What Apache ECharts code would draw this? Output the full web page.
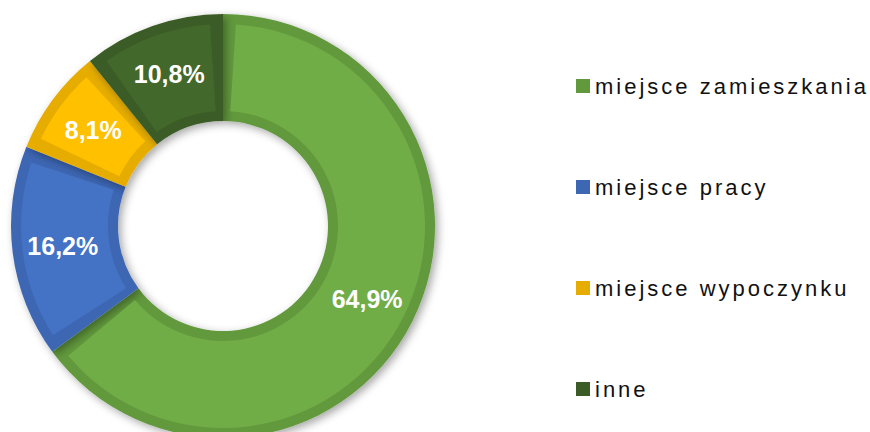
<!DOCTYPE html>
<html>
<head>
<meta charset="utf-8">
<script src="https://cdn.jsdelivr.net/npm/echarts@6/dist/echarts.min.js"></script>
<style>
html,body{margin:0;padding:0;background:#fff;}
#main{width:870px;height:432px;}
/* szerokie odstępy liter w legendzie jak w oryginale */
#main svg text:not([style*="bold"]){letter-spacing:3px;}
</style>
</head>
<body>
<div id="main"></div>
<script>
var categories = ['miejsce zamieszkania', 'miejsce pracy', 'miejsce wypoczynku', 'inne'];
var values = [64.9, 16.2, 8.1, 10.8];
var fillColors = ['#70AD47', '#4472C4', '#FFC000', '#43682B'];
var edgeColors = ['#62993D', '#3D66B3', '#E6AD00', '#3B5C26'];

var chart = echarts.init(document.getElementById('main'), null, {renderer: 'svg'});

var ringData = [];
var innerData = [];
for (var i = 0; i < categories.length; i++) {
	ringData.push({name: categories[i], value: values[i], itemStyle: {color: edgeColors[i]}});
	innerData.push({name: categories[i], value: values[i], itemStyle: {color: fillColors[i]}});
}

var option = {
	backgroundColor: '#fff',
	animation: false,
	color: fillColors,
	legend: {
		orient: 'vertical',
		left: 576,
		top: 75,
		padding: 0,
		itemWidth: 14,
		itemHeight: 14,
		itemGap: 79,
		icon: 'rect',
		selectedMode: false,
		data: categories,
		textStyle: {
			fontFamily: 'Liberation Sans',
			fontSize: 22,
			lineHeight: 22,
			color: '#111'
		}
	},
	series: [
		{
			// ciemniejsza obwódka - pełny pierścień
			name: 'obwodka',
			type: 'pie',
			silent: true,
			center: [223, 226],
			radius: [105, 212],
			startAngle: 90,
			clockwise: true,
			label: {show: false},
			labelLine: {show: false},
			itemStyle: {
				shadowBlur: 8,
				shadowOffsetX: 3,
				shadowOffsetY: 3,
				shadowColor: 'rgba(0,0,0,0.35)'
			},
			data: ringData
		},
		{
			name: 'udzial',
			type: 'pie',
			silent: true,
			center: [223, 226],
			radius: [115, 202],
			startAngle: 90,
			clockwise: true,
			padAngle: 7.3,
			label: {
				show: true,
				position: 'inside',
				color: '#fff',
				fontFamily: 'Liberation Sans',
				fontWeight: 'bold',
				fontSize: 25,
				formatter: function (p) {
					return p.value.toFixed(1).replace('.', ',') + '%';
				}
			},
			labelLine: {show: false},
			data: innerData
		}
	]
};
chart.setOption(option);
</script>
</body>
</html>
